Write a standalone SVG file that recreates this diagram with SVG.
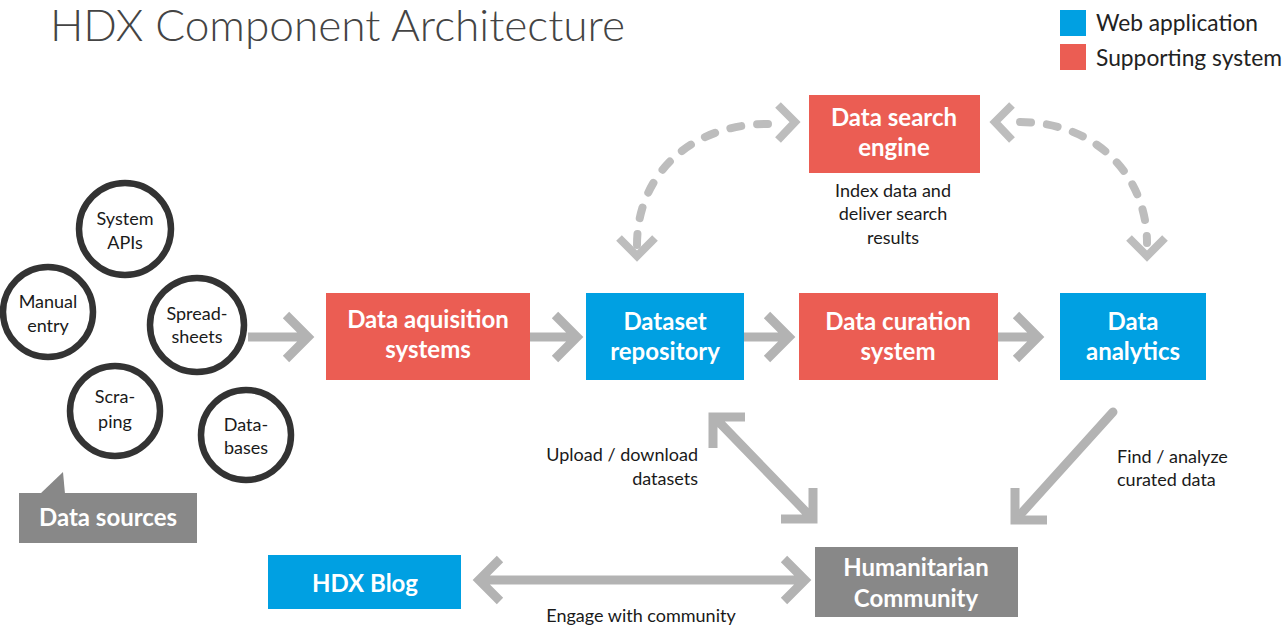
<svg xmlns="http://www.w3.org/2000/svg" width="1285" height="629" viewBox="0 0 1285 629">
<style>
text{font-family:Lato,"Open Sans","Liberation Sans",sans-serif}
.title{font-size:43px;font-weight:300;fill:#444}
.leg{font-size:23px;font-weight:400;fill:#222}
.lbl{font-size:18px;fill:#1a1a1a}
.bx{font-size:24px;font-weight:700;fill:#fff}
.circ{fill:#fff;stroke:#333;stroke-width:6.5}
.blue{fill:#00A0E2}
.red{fill:#EB5D53}
.gray{fill:#888}
.arr{fill:none;stroke:#B3B3B3;stroke-width:9}
.dash{fill:none;stroke:#BDBDBD;stroke-width:8;stroke-dasharray:11 16;stroke-linecap:round}
.hd{fill:none;stroke:#BDBDBD;stroke-width:8}
</style>
<text class="title" x="50" y="41" textLength="575" lengthAdjust="spacingAndGlyphs">HDX Component Architecture</text>
<g id="legend">
<rect class="blue" x="1060" y="10" width="26" height="26"/>
<rect class="red" x="1060" y="44" width="26" height="26"/>
<text class="leg" x="1096" y="31" textLength="162" lengthAdjust="spacingAndGlyphs">Web application</text>
<text class="leg" x="1096" y="66" textLength="186" lengthAdjust="spacingAndGlyphs">Supporting system</text>
</g>
<g id="connectors">
<path class="arr" d="M248 337H306M286 315L308 337L286 359"/>
<path class="arr" d="M530 337H576M555 315L577 337L555 359"/>
<path class="arr" d="M744 337H788M767 315L789 337L767 359"/>
<path class="arr" d="M998 337H1038M1016 315L1038 337L1016 359"/>
<path class="dash" d="M637 245C637 175 690 124 768 124"/>
<path class="hd" d="M619 238L637 256L655 238M778 105L795 122L778 140"/>
<path class="dash" d="M1020 122C1095 122 1147 175 1147 243"/>
<path class="hd" d="M1012 105L995 122L1012 140M1129 238L1147 256L1165 238"/>
<path class="arr" d="M718 421L809 515M713 448V417H745M781 519H813V488"/>
<path class="arr" d="M1113 412L1019 516" stroke-linecap="round"/>
<path class="arr" d="M1015 488V520H1047"/>
<path class="arr" d="M482 580H803M500 559L479 580L500 601M784 559L805 580L784 601"/>
</g>
<g id="manual-entry"><circle class="circ" cx="48" cy="312" r="45"/><text class="lbl" x="48" y="308" text-anchor="middle">Manual</text><text class="lbl" x="48" y="332" text-anchor="middle">entry</text></g>
<g id="system-apis"><circle class="circ" cx="125" cy="229" r="46"/><text class="lbl" x="125" y="225" text-anchor="middle">System</text><text class="lbl" x="125" y="249" text-anchor="middle">APIs</text></g>
<g id="spreadsheets"><circle class="circ" cx="197" cy="325" r="47"/><text class="lbl" x="197" y="320" text-anchor="middle">Spread-</text><text class="lbl" x="197" y="343" text-anchor="middle">sheets</text></g>
<g id="scraping"><circle class="circ" cx="115" cy="411" r="45"/><text class="lbl" x="115" y="403" text-anchor="middle">Scra-</text><text class="lbl" x="115" y="428" text-anchor="middle">ping</text></g>
<g id="databases"><circle class="circ" cx="246" cy="435" r="45"/><text class="lbl" x="246" y="431" text-anchor="middle">Data-</text><text class="lbl" x="246" y="454" text-anchor="middle">bases</text></g>
<g id="data-sources"><polygon class="gray" points="40,494 63,472 65,494"/><rect class="gray" x="19" y="493" width="178" height="50"/><text class="bx" x="108" y="526" text-anchor="middle" font-size="22">Data sources</text></g>
<g id="data-acquisition"><rect class="red" x="326" y="293" width="204" height="87"/><text class="bx" x="428" y="328" text-anchor="middle">Data aquisition</text><text class="bx" x="428" y="358" text-anchor="middle">systems</text></g>
<g id="dataset-repository"><rect class="blue" x="586" y="293" width="158" height="87"/><text class="bx" x="665" y="330" text-anchor="middle">Dataset</text><text class="bx" x="665" y="360" text-anchor="middle">repository</text></g>
<g id="data-curation"><rect class="red" x="799" y="293" width="199" height="87"/><text class="bx" x="898" y="330" text-anchor="middle">Data curation</text><text class="bx" x="898" y="360" text-anchor="middle">system</text></g>
<g id="data-analytics"><rect class="blue" x="1060" y="293" width="146" height="87"/><text class="bx" x="1133" y="330" text-anchor="middle">Data</text><text class="bx" x="1133" y="360" text-anchor="middle">analytics</text></g>
<g id="data-search-engine"><rect class="red" x="809" y="95" width="171" height="78"/><text class="bx" x="894" y="126" text-anchor="middle">Data search</text><text class="bx" x="894" y="156" text-anchor="middle">engine</text>
<text class="lbl" x="893" y="197" text-anchor="middle">Index data and</text><text class="lbl" x="893" y="220" text-anchor="middle">deliver search</text><text class="lbl" x="893" y="244" text-anchor="middle">results</text></g>
<g id="hdx-blog"><rect class="blue" x="268" y="555" width="193" height="54"/><text class="bx" x="365" y="592" text-anchor="middle" font-size="30">HDX Blog</text></g>
<g id="humanitarian-community"><rect class="gray" x="815" y="547" width="203" height="70"/><text class="bx" x="916" y="576" text-anchor="middle" font-size="23">Humanitarian</text><text class="bx" x="916" y="607" text-anchor="middle" font-size="23">Community</text></g>
<g id="labels">
<text class="lbl" x="698" y="461" text-anchor="end">Upload / download</text>
<text class="lbl" x="698" y="485" text-anchor="end">datasets</text>
<text class="lbl" x="1117" y="463">Find / analyze</text>
<text class="lbl" x="1117" y="486">curated data</text>
<text class="lbl" x="641" y="622" text-anchor="middle">Engage with community</text>
</g>
</svg>
